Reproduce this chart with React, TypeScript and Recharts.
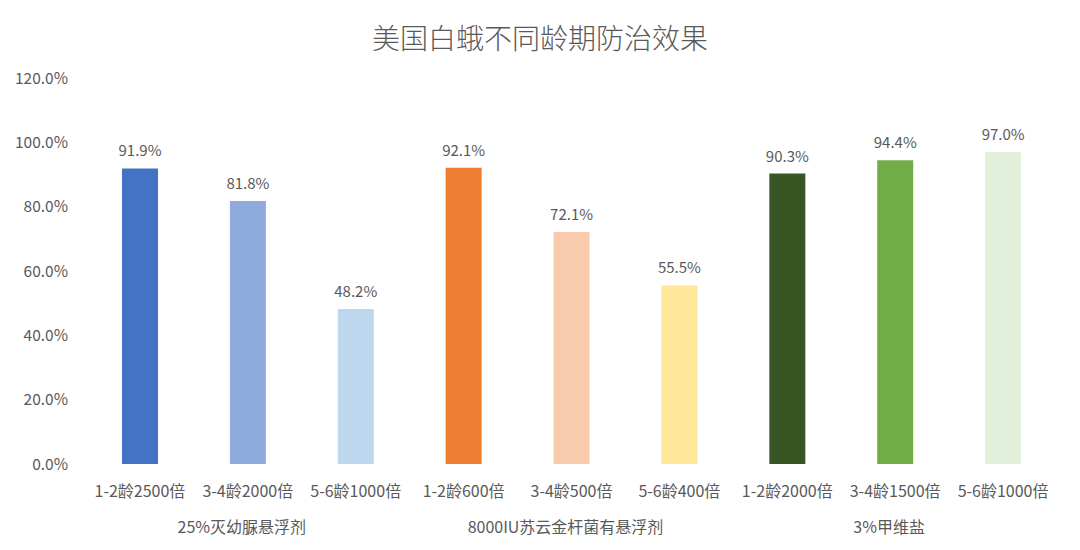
import { Bar, BarChart, Cell, LabelList, XAxis, YAxis } from "recharts";

const categories = [
  "1-2龄2500倍",
  "3-4龄2000倍",
  "5-6龄1000倍",
  "1-2龄600倍",
  "3-4龄500倍",
  "5-6龄400倍",
  "1-2龄2000倍",
  "3-4龄1500倍",
  "5-6龄1000倍",
];
const groups = ["25%灭幼脲悬浮剂", "8000IU苏云金杆菌有悬浮剂", "3%甲维盐"];
const values = [91.9, 81.8, 48.2, 92.1, 72.1, 55.5, 90.3, 94.4, 97.0];
const colors = [
  "#4472C4",
  "#8FAADC",
  "#BDD7EE",
  "#ED7D31",
  "#F8CBAD",
  "#FFE699",
  "#375623",
  "#70AD47",
  "#E2EFDA",
];
const yTicks = [0, 20, 40, 60, 80, 100, 120];

const data = categories.map((name, i) => ({ name, value: values[i] }));

const FONT = "'Noto Sans CJK SC', 'Noto Sans', sans-serif";
const TEXT = "#595959";

const CustomXTick = ({
  x,
  y,
  payload,
}: {
  x: number;
  y: number;
  payload: { value: string; index: number };
}) => {
  const idx = payload.index;
  return (
    <g>
      <text
        x={x}
        y={y + 18}
        textAnchor="middle"
        dominantBaseline="central"
        fontSize={16}
        fontFamily={FONT}
        fill={TEXT}
      >
        {payload.value}
      </text>
      {idx % 3 === 1 && (
        <text
          x={x - 6}
          y={y + 54}
          textAnchor="middle"
          dominantBaseline="central"
          fontSize={16}
          fontFamily={FONT}
          fill={TEXT}
        >
          {groups[(idx - 1) / 3]}
        </text>
      )}
    </g>
  );
};

const App = () => {
  return (
    <div
      style={{
        position: "absolute",
        left: 0,
        top: 0,
        width: 1080,
        height: 550,
        background: "#fff",
      }}
    >
      <div
        style={{
          position: "absolute",
          top: 17,
          width: 1080,
          textAlign: "center",
          fontFamily: FONT,
          fontSize: 28,
          fontWeight: 300,
          color: TEXT,
          lineHeight: "40px",
        }}
      >
        美国白蛾不同龄期防治效果
      </div>
      <BarChart
        width={1080}
        height={550}
        data={data}
        margin={{ top: 78, right: 23, bottom: 0, left: 0 }}
      >
        <XAxis
          dataKey="name"
          height={86}
          axisLine={false}
          tickLine={false}
          interval={0}
          tick={(props) => <CustomXTick {...props} />}
        />
        <YAxis
          width={86}
          domain={[0, 120]}
          ticks={yTicks}
          axisLine={false}
          tickLine={false}
          tickSize={0}
          tickMargin={18}
          tickFormatter={(v: number) => `${v.toFixed(1)}%`}
          tick={{ fontSize: 15.5, fontFamily: FONT, fill: TEXT }}
        />
        <Bar dataKey="value" barSize={36} isAnimationActive={false}>
          {data.map((d, i) => (
            <Cell key={d.name + i} fill={colors[i]} />
          ))}
          <LabelList
            dataKey="value"
            position="top"
            offset={12}
            formatter={(v: number) => `${v.toFixed(1)}%`}
            style={{ fontSize: 15, fontFamily: FONT, fill: TEXT }}
          />
        </Bar>
      </BarChart>
    </div>
  );
};

export default App;
